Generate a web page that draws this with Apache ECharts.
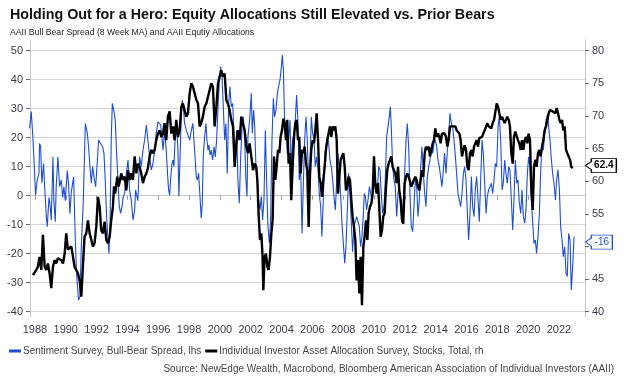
<!DOCTYPE html>
<html><head><meta charset="utf-8">
<script src="https://cdn.jsdelivr.net/npm/echarts@6/dist/echarts.min.js"></script>
<style>html,body{margin:0;padding:0;background:#fff}#c{width:624px;height:381px}</style>
</head><body><div id="c"></div>
<script>
// AAII Bull-Bear spread (8 wk MA), lhs
const blueDates = [1987.65,1987.76,1987.87,1987.98,1988.04,1988.15,1988.26,1988.30,1988.37,1988.45,1988.56,1988.63,1988.74,1988.80,1988.91,1988.97,1989.06,1989.17,1989.23,1989.32,1989.38,1989.49,1989.60,1989.71,1989.80,1989.88,1989.97,1990.10,1990.18,1990.27,1990.36,1990.42,1990.51,1990.62,1990.70,1990.83,1990.92,1991.01,1991.14,1991.27,1991.40,1991.48,1991.57,1991.66,1991.74,1991.83,1991.94,1992.00,1992.13,1992.26,1992.39,1992.48,1992.56,1992.65,1992.74,1992.80,1992.87,1992.95,1993.02,1993.13,1993.21,1993.30,1993.39,1993.47,1993.56,1993.65,1993.73,1993.82,1993.93,1994.04,1994.14,1994.25,1994.36,1994.47,1994.53,1994.62,
1994.68,1994.79,1994.90,1995.01,1995.12,1995.23,1995.33,1995.44,1995.55,1995.66,1995.77,1995.87,1995.98,1996.09,1996.16,1996.24,1996.31,1996.41,1996.52,1996.59,1996.67,1996.74,1996.80,1996.89,1996.96,1997.02,1997.11,1997.19,1997.28,1997.34,1997.41,1997.50,1997.56,1997.63,1997.71,1997.82,1997.93,1998.04,1998.15,1998.25,1998.36,1998.47,1998.53,1998.62,1998.71,1998.79,1998.86,1998.92,1999.01,1999.10,1999.16,1999.23,1999.29,1999.36,1999.44,1999.53,1999.62,1999.70,1999.79,1999.88,1999.96,2000.05,2000.14,2000.22,2000.31,2000.39,2000.48,2000.57,2000.65,2000.74,2000.83,2000.91,2001.00,2001.09,2001.17,2001.26,2001.35,2001.43,2001.52,2001.61,2001.69,2001.76,
2001.82,2001.93,2002.04,2002.10,2002.19,2002.26,2002.34,2002.43,2002.51,2002.60,2002.69,2002.77,2002.86,2002.95,2003.03,2003.12,2003.21,2003.29,2003.38,2003.47,2003.55,2003.64,2003.73,2003.81,2003.90,2003.99,2004.05,2004.12,2004.20,2004.29,2004.37,2004.46,2004.55,2004.63,2004.72,2004.81,2004.89,2004.98,2005.07,2005.15,2005.24,2005.33,2005.41,2005.50,2005.59,2005.67,2005.76,2005.85,2005.93,2006.02,2006.11,2006.19,2006.28,2006.37,2006.45,2006.54,2006.62,2006.71,2006.80,2006.88,2006.97,2007.06,2007.14,2007.23,2007.32,2007.40,2007.49,2007.58,2007.66,2007.75,2007.84,2007.92,2008.01,2008.10,2008.18,2008.27,2008.35,2008.44,2008.53,2008.61,2008.70,2008.79,2008.87,2008.96,2009.05,
2009.13,2009.22,2009.31,2009.37,2009.44,2009.52,2009.61,2009.70,2009.78,2009.87,2009.96,2010.04,2010.13,2010.22,2010.30,2010.39,2010.47,2010.56,2010.65,2010.73,2010.82,2010.91,2010.99,2011.06,2011.12,2011.21,2011.30,2011.38,2011.47,2011.56,2011.64,2011.73,2011.82,2011.90,2011.99,2012.08,2012.16,2012.25,2012.33,2012.42,2012.51,2012.59,2012.68,2012.77,2012.85,2012.94,2013.03,2013.11,2013.20,2013.29,2013.37,2013.46,2013.55,2013.63,2013.72,2013.81,2013.89,2013.98,2014.07,2014.15,2014.24,2014.32,2014.41,2014.50,2014.58,2014.67,2014.76,2014.84,2014.93,2015.02,2015.10,2015.19,2015.28,2015.36,2015.45,2015.54,2015.62,2015.71,2015.80,2015.88,2015.97,2016.06,2016.14,2016.23,2016.32,
2016.40,2016.49,2016.57,2016.66,2016.75,2016.83,2016.92,2017.01,2017.09,2017.18,2017.27,2017.35,2017.44,2017.53,2017.61,2017.70,2017.79,2017.87,2017.96,2018.05,2018.13,2018.22,2018.31,2018.39,2018.48,2018.56,2018.65,2018.74,2018.82,2018.91,2019.00,2019.08,2019.17,2019.26,2019.34,2019.43,2019.52,2019.60,2019.69,2019.78,2019.86,2019.95,2020.03,2020.12,2020.21,2020.30,2020.38,2020.47,2020.55,2020.64,2020.73,2020.81,2020.90,2020.99,2021.07,2021.16,2021.25,2021.33,2021.42,2021.51,2021.59,2021.68,2021.77,2021.85,2021.94,2022.03,2022.11,2022.20,2022.28,2022.37,2022.46,2022.54,2022.63,2022.72,2022.80,2022.89,2022.98];
const blueValues = [23.2,29.0,19.8,7.7,0.2,5.4,7.7,18.0,16.9,4.3,11.1,3.1,-7.2,-10.7,-0.6,-2.6,-8.4,13.4,-1.7,-9.0,3.1,13.4,3.1,5.4,-0.6,3.1,-1.7,8.7,4.1,-6.2,1.3,0.7,6.4,-15.4,-26.8,-36.0,-34.8,-17.6,-1.7,24.9,21.5,16.9,10.0,4.3,10.0,6.6,3.1,7.7,19.2,18.0,16.9,14.6,5.4,-7.2,-15.3,-19.9,-10.7,19.2,31.8,29.0,26.1,14.6,5.4,-3.8,-6.1,-3.8,-0.3,0.8,7.7,12.3,2.0,-1.5,-8.4,-4.9,2.0,-0.3,
-1.7,13.4,10.0,15.7,19.2,24.4,19.2,13.4,8.9,11.1,15.7,21.5,25.5,26.1,24.4,20.3,15.7,22.6,15.7,8.9,2.0,0.2,5.4,11.1,12.3,10.0,21.5,24.9,15.7,-0.3,12.3,28.4,33.0,30.7,24.9,22.6,22.1,19.2,22.6,24.9,15.7,6.6,5.4,7.7,-0.3,-7.8,-2.6,13.4,20.3,24.9,19.2,15.7,17.5,14.0,15.7,12.3,16.9,13.4,19.2,30.7,38.7,44.5,41.0,30.7,19.2,24.9,7.7,31.8,37.6,30.7,31.8,21.5,13.4,22.6,5.4,-2.6,13.4,22.6,27.2,19.2,5.4,-0.3,
20.3,26.1,35.3,21.5,29.5,23.8,10.0,5.4,-1.5,-4.9,-0.3,-8.4,-1.5,22.6,5.4,-10.7,-16.4,-8.4,19.2,33.6,27.2,29.5,35.3,37.6,39.9,44.5,48.5,43.3,26.1,22.6,14.6,19.2,26.1,10.0,19.2,21.5,26.1,34.7,24.9,5.4,10.0,-13.0,3.1,19.2,27.2,19.2,5.4,11.1,27.2,21.5,19.2,10.0,13.4,8.9,0.8,-3.8,-14.1,-1.5,13.4,16.9,20.3,18.0,12.3,10.0,5.4,-0.3,-4.9,5.4,14.6,8.9,-0.3,-9.5,-16.4,-23.3,-17.6,-4.9,7.7,0.8,-9.5,-19.3,-10.7,-10.7,-7.2,-7.8,-10.7,
-17.6,-14.1,-6.1,0.8,-0.3,-4.9,-1.5,3.1,0.8,-1.5,3.1,7.7,3.1,0.8,10.0,8.9,0.8,-6.1,-3.8,5.4,20.3,23.8,27.2,30.7,23.8,10.0,5.4,3.1,-7.2,0.8,3.1,-3.8,-9.5,-1.5,7.7,19.2,24.9,16.9,0.8,-10.7,-12.4,-3.8,5.4,3.1,-7.2,-1.5,10.0,16.9,7.7,0.8,-3.8,6.6,10.0,12.3,16.9,14.6,18.0,19.2,16.9,12.3,10.0,6.6,3.1,8.9,14.6,7.7,15.7,20.3,28.4,24.9,23.8,19.2,13.4,7.7,0.8,-1.5,-3.8,0.8,7.7,10.0,5.4,-6.1,-15.3,-6.1,6.6,
-3.8,-7.2,2.0,6.6,-1.5,-9.0,5.4,19.2,14.6,4.3,-6.1,-0.3,2.0,3.1,4.3,0.8,5.4,11.1,10.0,23.8,27.2,19.2,2.0,4.3,12.3,7.7,4.3,10.0,8.9,-1.5,-11.8,-1.5,12.3,4.3,5.4,-2.6,-6.1,2.0,-7.2,-9.5,-4.9,7.7,13.4,10.0,-1.5,-9.5,-16.4,-15.3,-19.9,-14.1,-6.1,7.7,18.0,15.7,21.5,26.1,27.8,28.4,19.2,12.3,7.7,4.3,-1.5,5.4,8.9,2.0,-10.7,-15.3,-21.0,-17.6,-26.8,-27.9,-13.0,-15.3,-32.5,-24.5,-14.1];

// AAII asset allocation survey, stocks total (%), rhs
const alloDates = [1987.87,1987.98,1988.09,1988.19,1988.30,1988.41,1988.52,1988.63,1988.74,1988.84,1988.95,1989.06,1989.17,1989.28,1989.38,1989.49,1989.60,1989.71,1989.82,1989.93,1990.03,1990.14,1990.25,1990.36,1990.47,1990.57,1990.68,1990.79,1990.90,1991.01,1991.11,1991.22,1991.33,1991.44,1991.55,1991.66,1991.76,1991.87,1991.98,1992.09,1992.20,1992.30,1992.41,1992.52,1992.63,1992.74,1992.85,1992.95,1993.06,1993.13,1993.21,1993.34,1993.43,1993.52,1993.60,1993.71,1993.82,1993.93,1994.04,1994.14,1994.25,1994.36,1994.47,1994.58,
1994.68,1994.79,1994.90,1995.01,1995.12,1995.23,1995.33,1995.44,1995.55,1995.66,1995.77,1995.87,1995.98,1996.09,1996.20,1996.31,1996.41,1996.52,1996.63,1996.74,1996.85,1996.96,1997.06,1997.17,1997.28,1997.39,1997.50,1997.60,1997.71,1997.82,1997.93,1998.04,1998.15,1998.25,1998.36,1998.47,1998.58,1998.69,1998.79,1998.90,1999.01,1999.12,1999.23,1999.34,1999.44,1999.55,1999.66,1999.77,1999.88,1999.98,2000.09,2000.20,2000.31,2000.42,2000.52,2000.63,2000.74,2000.85,2000.96,2001.07,2001.17,2001.28,2001.39,2001.50,2001.61,2001.72,
2001.82,2001.93,2002.04,2002.15,2002.26,2002.36,2002.43,2002.51,2002.60,2002.69,2002.77,2002.82,2002.90,2002.99,2003.08,2003.16,2003.25,2003.34,2003.42,2003.51,2003.60,2003.68,2003.77,2003.86,2003.94,2004.03,2004.12,2004.20,2004.29,2004.37,2004.46,2004.55,2004.63,2004.72,2004.81,2004.89,2004.98,2005.07,2005.15,2005.24,2005.33,2005.41,2005.50,2005.59,2005.67,2005.76,2005.85,2005.93,2006.02,2006.11,2006.19,2006.28,2006.37,2006.45,2006.54,2006.62,2006.71,2006.80,2006.88,2006.97,2007.06,2007.14,2007.23,2007.32,2007.40,2007.49,2007.58,2007.66,2007.75,2007.84,2007.92,2008.01,2008.10,2008.18,2008.27,2008.35,2008.44,2008.53,2008.61,2008.70,2008.79,2008.87,2008.96,2009.05,
2009.13,2009.22,2009.31,2009.39,2009.48,2009.57,2009.65,2009.74,2009.83,2009.91,2010.00,2010.09,2010.17,2010.26,2010.34,2010.43,2010.52,2010.60,2010.69,2010.78,2010.86,2010.95,2011.04,2011.12,2011.21,2011.30,2011.38,2011.47,2011.56,2011.64,2011.73,2011.82,2011.90,2011.99,2012.08,2012.16,2012.25,2012.33,2012.42,2012.51,2012.59,2012.68,2012.77,2012.85,2012.94,2013.03,2013.11,2013.20,2013.29,2013.37,2013.46,2013.55,2013.63,2013.72,2013.81,2013.89,2013.98,2014.07,2014.15,2014.24,2014.32,2014.41,2014.50,2014.58,2014.67,2014.76,2014.84,2014.93,2015.02,2015.10,2015.19,2015.28,2015.36,2015.45,2015.54,2015.62,2015.71,2015.80,2015.88,2015.97,2016.06,2016.14,2016.23,2016.32,
2016.40,2016.49,2016.57,2016.66,2016.75,2016.83,2016.92,2017.01,2017.09,2017.18,2017.27,2017.35,2017.44,2017.53,2017.61,2017.70,2017.79,2017.87,2017.96,2018.05,2018.13,2018.22,2018.31,2018.39,2018.48,2018.56,2018.65,2018.74,2018.82,2018.91,2019.00,2019.08,2019.17,2019.26,2019.34,2019.43,2019.52,2019.60,2019.69,2019.78,2019.86,2019.95,2020.03,2020.12,2020.21,2020.30,2020.38,2020.47,2020.55,2020.64,2020.73,2020.81,2020.90,2020.99,2021.07,2021.16,2021.25,2021.33,2021.42,2021.51,2021.59,2021.68,2021.77,2021.85,2021.94,2022.03,2022.11,2022.20,2022.28,2022.37,2022.46,2022.54,2022.63,2022.72,2022.80,2022.89];
const alloValues = [45.6,45.9,46.4,46.9,48.4,46.4,51.8,46.9,46.4,47.4,45.9,43.6,46.9,47.9,47.4,48.2,47.9,47.9,47.4,48.9,52.0,49.5,49.2,50.0,48.4,46.9,46.4,45.9,44.8,42.3,46.9,51.5,52.0,54.0,52.0,51.0,50.0,50.5,53.0,57.6,56.1,52.5,52.0,53.8,51.0,50.5,51.5,54.0,56.1,59.2,58.1,60.7,59.2,60.2,61.2,60.2,60.7,58.6,61.7,60.2,61.2,60.2,63.8,61.2,
62.7,62.2,61.2,59.7,60.7,61.2,62.0,63.8,64.8,64.3,64.8,66.3,67.3,67.8,66.8,67.3,68.9,66.3,69.9,70.7,67.3,68.4,66.3,69.4,66.8,67.8,71.4,71.9,70.9,69.9,70.4,73.5,75.0,74.5,73.5,72.5,71.9,68.4,68.9,69.9,71.4,71.9,71.9,74.0,75.0,74.5,68.4,71.4,75.0,76.0,77.0,76.0,76.5,72.4,71.9,70.9,69.4,68.4,62.2,65.8,67.8,66.3,69.9,69.9,67.8,65.3,
64.3,65.8,65.8,61.7,62.7,62.2,60.2,55.1,51.0,52.0,48.4,43.3,48.4,48.9,46.9,46.4,48.4,52.0,54.0,63.8,60.2,62.2,64.8,64.3,66.8,67.8,69.6,68.9,66.3,69.4,62.7,64.3,57.1,62.2,66.8,68.9,69.4,66.3,66.8,61.2,64.8,64.3,65.3,62.7,61.7,53.0,61.2,64.8,66.3,65.8,67.8,70.4,66.3,60.7,59.7,57.6,60.2,62.2,64.8,66.3,66.3,68.4,66.8,68.4,67.8,68.4,66.3,58.1,60.7,63.3,63.8,64.3,62.2,58.6,59.2,60.7,60.2,57.1,54.6,53.0,51.0,44.8,47.9,42.8,
48.4,41.0,50.0,51.5,54.0,51.0,55.1,56.1,56.6,58.1,63.8,59.2,58.1,59.7,56.1,51.5,52.5,54.6,55.1,59.2,61.7,62.7,63.3,63.8,62.2,62.2,61.2,59.7,62.2,58.6,57.1,54.0,53.5,59.7,60.7,61.2,60.7,60.7,59.2,59.7,60.2,60.7,60.2,59.2,58.6,60.2,61.7,60.7,64.3,65.3,64.8,65.3,63.8,64.8,65.8,66.3,68.1,66.8,67.3,66.8,65.8,67.3,67.3,67.3,66.8,65.3,66.3,68.4,68.4,68.4,68.6,68.4,67.8,67.8,67.3,66.3,63.8,64.8,65.5,64.8,62.2,61.7,64.3,64.8,
63.8,65.3,65.8,66.3,65.3,66.6,66.3,66.8,67.3,67.8,67.6,68.9,68.4,68.6,68.1,68.9,69.4,69.6,71.9,71.4,70.4,69.4,69.9,69.4,68.9,69.4,69.9,69.4,68.4,64.3,62.7,66.8,67.6,67.8,66.3,65.8,64.8,66.3,64.8,66.3,66.8,65.8,67.3,66.3,58.6,55.6,62.2,63.3,62.2,64.3,64.8,63.8,65.3,66.3,67.8,68.4,69.4,70.4,70.9,71.2,70.7,70.9,70.4,71.2,70.4,69.4,68.9,69.4,67.8,68.4,64.8,64.3,64.3,63.3,62.2,62.0];

const yearTicks = [1988,1990,1992,1994,1996,1998,2000,2002,2004,2006,2008,2010,2012,2014,2016,2018,2020,2022];
const leftTicks = [-40,-30,-20,-10,0,10,20,30,40,50];
const rightTicks = [40,45,50,55,60,65,70,75,80];
const lastAllocation = 62.4;
const lastSpread = -16;

const BLUE = '#1f4fcf';
const zip = (a, b) => a.map((d, i) => [d, b[i]]);
const lbl = {fontFamily: 'Liberation Sans, Arial, sans-serif', fontSize: 11, color: '#3a3a4a'};

const chart = echarts.init(document.getElementById('c'), null, {renderer: 'canvas'});
chart.setOption({
  animation: false,
  backgroundColor: '#fff',
  textStyle: {fontFamily: 'Liberation Sans, Arial, sans-serif'},
  title: [
    {text: 'Holding Out for a Hero: Equity Allocations Still Elevated vs. Prior Bears', left: 5, top: 3,
     textStyle: {fontSize: 14.3, fontWeight: 'bold', color: '#111'}},
    {text: 'AAII Bull Bear Spread (8 Week MA) and AAII Equtiy Allocations', left: 5, top: 23,
     textStyle: {fontSize: 8.7, fontWeight: 'normal', color: '#222'}},
    {text: 'Source: NewEdge Wealth, Macrobond, Bloomberg American Association of Individual Investors (AAII)', right: 5, top: 359,
     textStyle: {fontSize: 10, fontWeight: 'normal', color: '#444'}}
  ],
  legend: {
    left: 4, top: 341, itemWidth: 12, itemHeight: 3, itemGap: 4, icon: 'rect',
    textStyle: {fontSize: 10, color: '#444', padding: [0, 0, 0, -3]},
    data: ['Sentiment Survey, Bull-Bear Spread, lhs', 'Individual Investor Asset Allocation Survey, Stocks, Total, rh']
  },
  grid: {left: 30, right: 39, top: 40, bottom: 64},
  xAxis: {
    type: 'value', min: 1987.68, max: 2023.69,
    axisLine: {show: true, lineStyle: {color: '#c8c8c8'}},
    axisTick: {show: true, length: 4, customValues: yearTicks, lineStyle: {color: '#999'}},
    axisLabel: {customValues: yearTicks, margin: 7, ...lbl, formatter: v => String(Math.round(v))},
    splitLine: {show: false}
  },
  yAxis: [
    {type: 'value', min: -41.83, max: 53.69, position: 'left',
     axisLine: {show: true, lineStyle: {color: '#c8c8c8'}},
     axisTick: {show: true, length: 4, customValues: leftTicks, lineStyle: {color: '#666'}},
     axisLabel: {customValues: leftTicks, margin: 7, ...lbl},
     splitLine: {show: true, lineStyle: {color: '#d4d4d4', width: 1}}},
    {type: 'value', min: 39.19, max: 81.64, position: 'right',
     axisLine: {show: true, lineStyle: {color: '#c8c8c8'}},
     axisTick: {show: true, length: 4, customValues: rightTicks, lineStyle: {color: '#666'}},
     axisLabel: {customValues: rightTicks, margin: 7, ...lbl},
     splitLine: {show: false}}
  ],
  series: [
    {name: 'Sentiment Survey, Bull-Bear Spread, lhs', type: 'line', yAxisIndex: 0, z: 3,
     data: zip(blueDates, blueValues), showSymbol: false, symbol: 'none',
     lineStyle: {color: BLUE, width: 1.1}, itemStyle: {color: BLUE},
     markPoint: {symbol: 'path://M0,7 L6,3 L6,0 L27,0 L27,14 L6,14 L6,11 Z', symbolSize: [27, 14], symbolOffset: [14, 0],
       itemStyle: {color: '#fff', borderColor: BLUE, borderWidth: 1},
       label: {show: true, position: 'inside', offset: [3, 0], color: BLUE, fontSize: 10, formatter: () => String(lastSpread)},
       data: [{coord: [2023.68, lastSpread]}]}},
    {name: 'Individual Investor Asset Allocation Survey, Stocks, Total, rh', type: 'line', yAxisIndex: 1, z: 4,
     data: zip(alloDates, alloValues), showSymbol: false, symbol: 'none',
     lineStyle: {color: '#000', width: 2.4}, itemStyle: {color: '#000'},
     markPoint: {symbol: 'path://M0,7 L6,3 L6,0 L31,0 L31,14 L6,14 L6,11 Z', symbolSize: [31, 14], symbolOffset: [16, 0],
       itemStyle: {color: '#fff', borderColor: '#000', borderWidth: 1},
       label: {show: true, position: 'inside', offset: [3, 0], color: '#000', fontWeight: 'bold', fontSize: 10, formatter: () => String(lastAllocation)},
       data: [{coord: [2023.68, lastAllocation]}]}}
  ]
});
</script></body></html>
